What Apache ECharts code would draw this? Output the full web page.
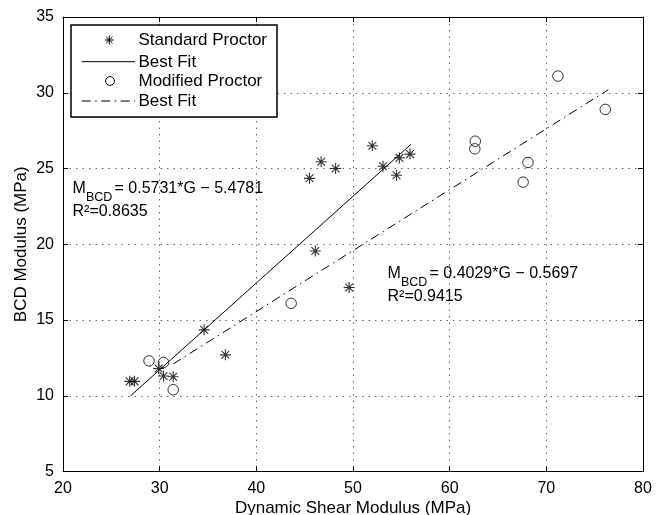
<!DOCTYPE html>
<html>
<head>
<meta charset="utf-8">
<script src="https://cdn.jsdelivr.net/npm/echarts@6/dist/echarts.min.js"></script>
<style>
  html, body { margin: 0; padding: 0; background: #fff; }
  #chart { width: 665px; height: 515px; }
</style>
</head>
<body>
<div id="chart"></div>
<script>
// ---- Data ----
var xTicks = [20, 30, 40, 50, 60, 70, 80];
var yTicks = [5, 10, 15, 20, 25, 30, 35];

var stdX = [26.9, 27.4, 29.9, 30.4, 31.4, 34.6, 36.8, 45.5, 46.1, 46.7, 48.2, 49.6, 52.0, 53.1, 54.5, 54.8, 55.9];
var stdY = [10.95, 10.95, 11.8, 11.3, 11.25, 14.35, 12.7, 24.35, 19.55, 25.45, 25.0, 17.15, 26.5, 25.15, 24.55, 25.7, 25.95];

var modX = [28.9, 30.4, 31.4, 43.6, 62.6, 62.65, 67.6, 68.1, 71.2, 76.1];
var modY = [12.3, 12.2, 10.4, 16.1, 26.3, 26.8, 24.1, 25.4, 31.1, 28.9];

var fit1X = [27.0, 56.0];
var fit1Y = [10.0, 26.6];
var fit2X = [31.4, 76.4];
var fit2Y = [12.1, 30.2];

var legendNames = ['Standard Proctor', 'Best Fit', 'Modified Proctor', 'Best Fit'];
var eq1 = ['M', 'BCD', '= 0.5731*G \u2212 5.4781', 'R\u00b2=0.8635'];
var eq2 = ['M', 'BCD', '= 0.4029*G \u2212 0.5697', 'R\u00b2=0.9415'];

// ---- Build ----
function pairs(xs, ys) { return xs.map(function (x, i) { return [x, ys[i]]; }); }

var FONT = '"Liberation Sans", Arial, Helvetica, sans-serif';
var asteriskPath = 'path://M0,-10L0,10M-10,0L10,0M-7.07,-7.07L7.07,7.07M-7.07,7.07L7.07,-7.07';
var dashDot = [9, 4.5, 1.5, 4.5];
var gridDots = { color: '#666', type: [1.5, 5], width: 1 };

function axisCommon(showLabel) {
  return {
    type: 'value',
    axisLine: { show: true, onZero: false, lineStyle: { color: '#000', width: 1 } },
    axisTick: { show: true, inside: true, length: 5, lineStyle: { color: '#000', width: 1 } },
    axisLabel: { show: showLabel, color: '#000', fontSize: 16, fontFamily: FONT },
    splitLine: { show: false }
  };
}

var xMain = Object.assign(axisCommon(true), {
  position: 'bottom', min: xTicks[0], max: xTicks[xTicks.length - 1], interval: 10,
  name: 'Dynamic Shear Modulus (MPa)', nameLocation: 'middle', nameGap: 28, nameMoveOverlap: false,
  nameTextStyle: { color: '#000', fontSize: 17, fontFamily: FONT },
  splitLine: { show: true, lineStyle: gridDots }
});
xMain.axisLabel.margin = 9;
var xTop = Object.assign(axisCommon(false), {
  position: 'top', min: xTicks[0], max: xTicks[xTicks.length - 1], interval: 10
});
var yMain = Object.assign(axisCommon(true), {
  position: 'left', min: yTicks[0], max: yTicks[yTicks.length - 1], interval: 5,
  name: 'BCD Modulus (MPa)', nameLocation: 'middle', nameGap: 33, nameRotate: 90, nameMoveOverlap: false,
  nameTextStyle: { color: '#000', fontSize: 17, fontFamily: FONT },
  splitLine: { show: true, lineStyle: gridDots }
});
yMain.axisLabel.margin = 9;
var yRight = Object.assign(axisCommon(false), {
  position: 'right', min: yTicks[0], max: yTicks[yTicks.length - 1], interval: 5
});

function txt(x, y, s, size) {
  return {
    type: 'text', x: x, y: y, z: 100,
    style: { text: s, fill: '#000', fontSize: size, fontFamily: FONT, align: 'left', verticalAlign: 'middle' }
  };
}
function eqGraphics(eq, x0, base) {
  return [
    txt(x0, base - 5.7, eq[0], 16),
    txt(x0 + 13.4, base + 7.4 - 4.5, eq[1], 12.5),
    txt(x0 + 42, base - 5.7, eq[2], 16),
    txt(x0, base + 23.4 - 5.7, eq[3], 16)
  ];
}

var legendG = [
  { type: 'rect', z: 90, shape: { x: 71, y: 25, width: 206, height: 92 },
    style: { fill: '#fff', stroke: '#000', lineWidth: 1.5 } },
  // asterisk
  { type: 'line', z: 95, shape: { x1: 109.3, y1: 35.5, x2: 109.3, y2: 44.5 }, style: { stroke: '#000', lineWidth: 1 } },
  { type: 'line', z: 95, shape: { x1: 104.8, y1: 40, x2: 113.8, y2: 40 }, style: { stroke: '#000', lineWidth: 1 } },
  { type: 'line', z: 95, shape: { x1: 106.1, y1: 36.8, x2: 112.5, y2: 43.2 }, style: { stroke: '#000', lineWidth: 1 } },
  { type: 'line', z: 95, shape: { x1: 106.1, y1: 43.2, x2: 112.5, y2: 36.8 }, style: { stroke: '#000', lineWidth: 1 } },
  // solid line
  { type: 'line', z: 95, shape: { x1: 81.7, y1: 61.7, x2: 135, y2: 61.7 }, style: { stroke: '#000', lineWidth: 1 } },
  // circle
  { type: 'circle', z: 95, shape: { cx: 110, cy: 81, r: 4.4 }, style: { fill: 'none', stroke: '#000', lineWidth: 1 } },
  // dash-dot line
  { type: 'line', z: 95, shape: { x1: 81.7, y1: 101, x2: 135, y2: 101 }, style: { stroke: '#000', lineWidth: 1, lineDash: dashDot } },
  txt(138.5, 40.5, legendNames[0], 17),
  txt(138.5, 62, legendNames[1], 17),
  txt(138.5, 81.3, legendNames[2], 17),
  txt(138.5, 101.3, legendNames[3], 17)
];

var option = {
  animation: false,
  backgroundColor: '#fff',
  grid: { left: 63, right: 22, top: 17, bottom: 43.5, containLabel: false, outerBoundsMode: 'none' },
  xAxis: [xMain, xTop],
  yAxis: [yMain, yRight],
  graphic: legendG.concat(eqGraphics(eq1, 72.5, 194.3)).concat(eqGraphics(eq2, 387.5, 279.3)),
  series: [
    { name: 'Best Fit', type: 'line', xAxisIndex: 0, yAxisIndex: 0, data: pairs(fit1X, fit1Y),
      showSymbol: false, symbol: 'none', z: 2,
      lineStyle: { color: '#000', width: 1, type: 'solid' } },
    { name: 'Best Fit 2', type: 'line', xAxisIndex: 0, yAxisIndex: 0, data: pairs(fit2X, fit2Y),
      showSymbol: false, symbol: 'none', z: 2,
      lineStyle: { color: '#000', width: 1, type: dashDot } },
    { name: 'Standard Proctor', type: 'scatter', xAxisIndex: 0, yAxisIndex: 0, data: pairs(stdX, stdY),
      symbol: asteriskPath, symbolSize: 11, z: 3,
      itemStyle: { color: '#000', borderColor: '#000', borderWidth: 1.1 } },
    { name: 'Modified Proctor', type: 'scatter', xAxisIndex: 0, yAxisIndex: 0, data: pairs(modX, modY),
      symbol: 'circle', symbolSize: 10.5, z: 3,
      itemStyle: { color: 'rgba(0,0,0,0)', borderColor: '#000', borderWidth: 1 } }
  ]
};

var chart = echarts.init(document.getElementById('chart'), null, { renderer: 'canvas' });
chart.setOption(option);
</script>
</body>
</html>
